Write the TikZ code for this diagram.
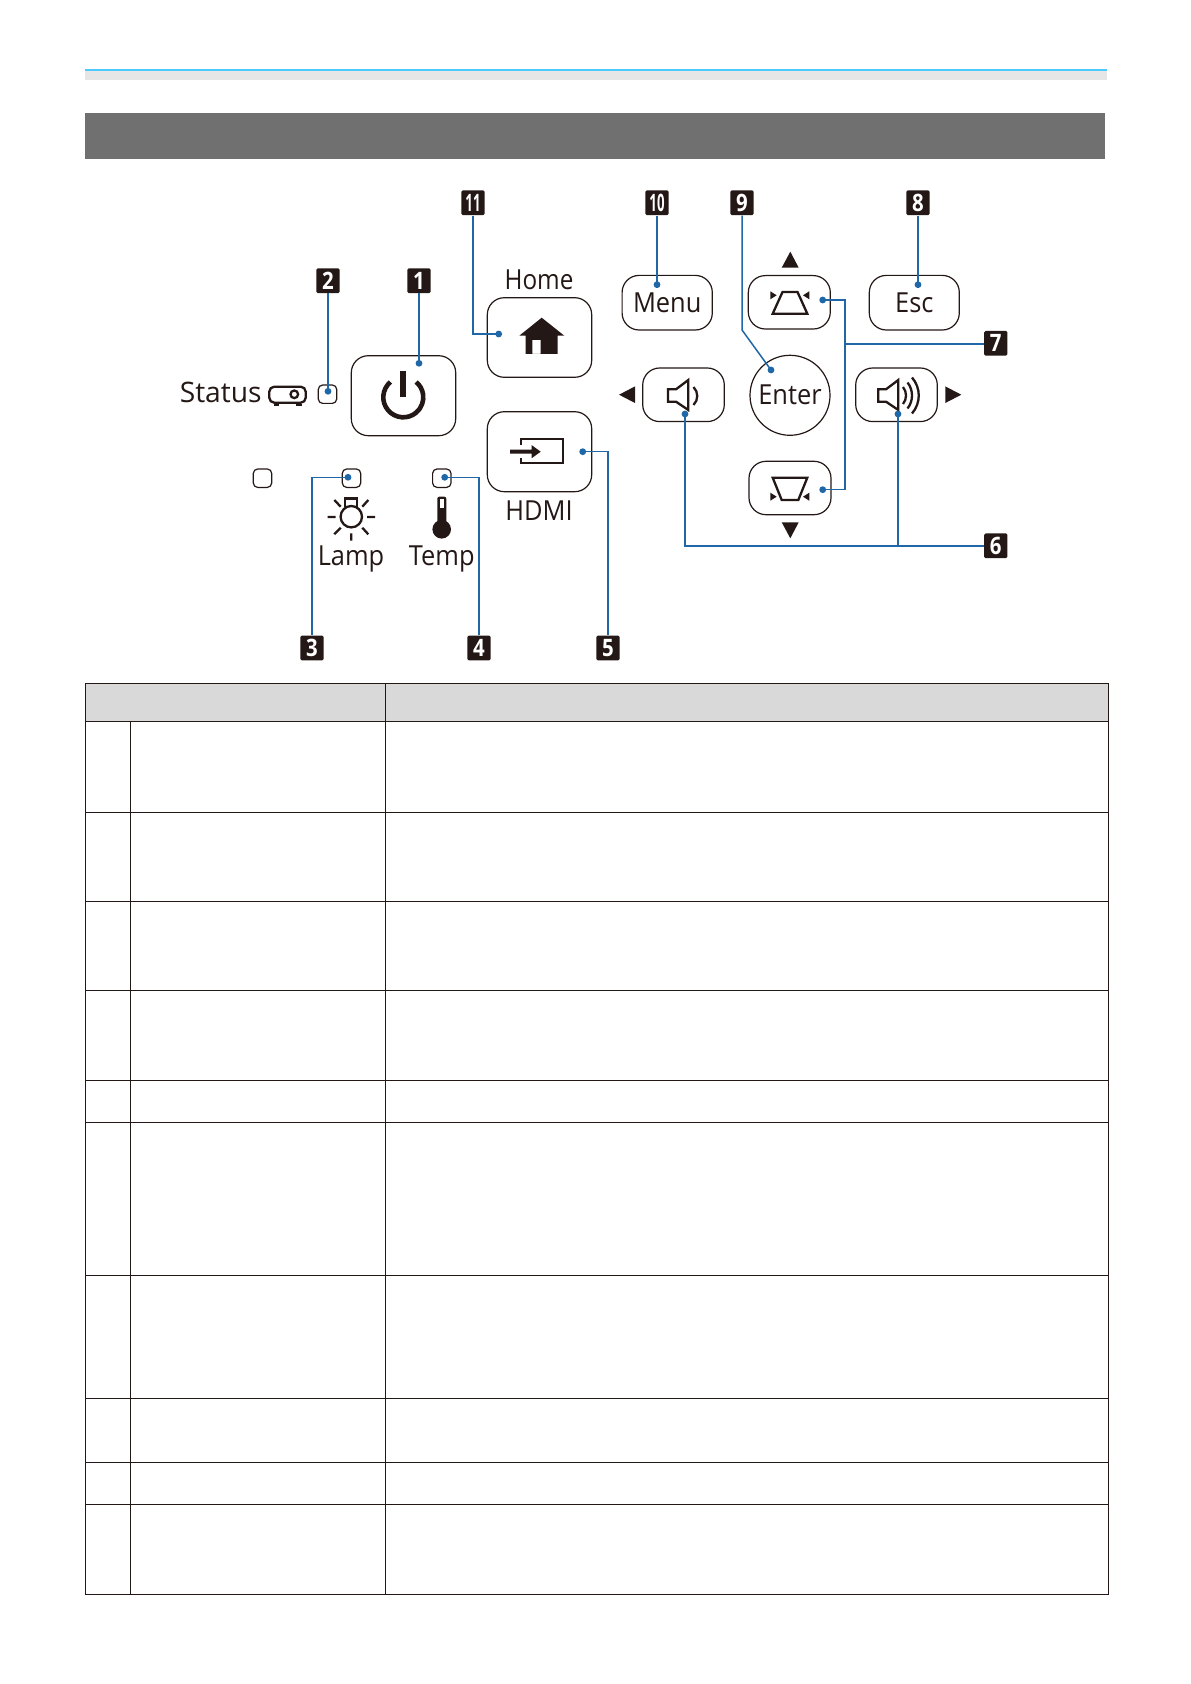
\documentclass[tikz,border=0pt]{standalone}
\usepackage{fontspec}
\usepackage{graphicx}
\setmainfont{Open Sans}
\usetikzlibrary{positioning, calc}
\definecolor{inkblk}{HTML}{231815}
\definecolor{leadblue}{HTML}{1F67A6}
\definecolor{skyline}{HTML}{4DCBFF}
\definecolor{darkbar}{HTML}{707070}
\definecolor{lightbar}{HTML}{E6E6E6}
\definecolor{headfill}{HTML}{D9D9D9}
\newcommand{\slimtxt}[1]{\scalebox{0.92}[1]{#1}}
\newcommand{\slimnum}[1]{\scalebox{0.85}[1]{#1}}
\tikzstyle{keybtn} = [draw=inkblk, line width=0.6pt, rounded corners=8.5pt, fill=white, inner sep=0pt, font=\fontsize{13.8}{16}\selectfont, text=inkblk]
\tikzstyle{ledbox} = [draw=inkblk, line width=0.6pt, rounded corners=2.2pt, minimum size=9.2pt, inner sep=0pt]
\tikzstyle{callout} = [fill=inkblk, rounded corners=0.7pt, minimum width=11.6pt, minimum height=12.4pt, inner sep=0pt, text=white, font=\fontsize{12}{12}\selectfont\bfseries]
\tikzstyle{bluedot} = [circle, fill=leadblue, minimum size=3.4pt, inner sep=0pt]
\tikzstyle{leader} = [draw=leadblue, line width=0.75pt]
\tikzstyle{caption} = [inner sep=0pt, anchor=base, font=\fontsize{13.8}{16}\selectfont, text=inkblk]
\tikzstyle{icon} = [draw=inkblk, line width=1.15pt]

\begin{document}
\begin{tikzpicture}[x=0.5pt, y=-0.5pt]
    \useasboundingbox (0,0) rectangle (1190,1684);

    % Page header
    \fill[lightbar] (85,71) rectangle (1107,80);
    \fill[skyline] (85,69) rectangle (1107,71);
    \fill[darkbar] (85,113) rectangle (1105,159);

    % Table
    \fill[headfill] (85.5,683.3) rectangle (1108,721.3);
    \draw[inkblk, line width=0.5pt] (85.5,683.3) rectangle (1108,1594);
    \draw[inkblk, line width=0.5pt] (385.3,683.3) -- (385.3,1594);
    \draw[inkblk, line width=0.5pt] (130.3,721.3) -- (130.3,1594);
    \foreach \y in {721.3, 812.3, 901, 990, 1080.5, 1122.5, 1275, 1398.5, 1462, 1504} {
        \draw[inkblk, line width=0.5pt] (85.5,\y) -- (1108,\y);
    }

    % Buttons
    \node[keybtn, minimum width=52.2pt, minimum height=40pt] (power) at (403.5,395.7) {};
    \node[keybtn, minimum width=52.2pt, minimum height=39.8pt] (home) at (539.5,337.5) {};
    \node[keybtn, minimum width=52.2pt, minimum height=40pt] (hdmi) at (539.5,451.7) {};
    \node[keybtn, minimum width=45.1pt, minimum height=27.3pt] (menu) at (667.2,302.7) {\raisebox{-0.3pt}{\slimtxt{Menu}}};
    \node[keybtn, minimum width=45pt, minimum height=27.3pt] (esc) at (914.3,302.7) {\raisebox{-0.3pt}{\slimtxt{Esc}}};
    \node[keybtn, minimum width=41pt, minimum height=26.7pt] (keyup) at (789.3,302.3) {};
    \node[keybtn, minimum width=41pt, minimum height=26.7pt] (keydown) at (790,488) {};
    \node[keybtn, minimum width=40.8pt, minimum height=26.8pt] (voldown) at (683.5,394.8) {};
    \node[keybtn, minimum width=40.8pt, minimum height=26.8pt] (volup) at (896.5,394.8) {};
    \node[keybtn, circle, minimum size=40pt] (enter) at (790,395.3) {\raisebox{0.4pt}{\slimtxt{Enter}}};

    % Indicators
    \node[ledbox] (ledstatus) at (327.5,394.2) {};
    \node[ledbox] (ledleft) at (262.5,478.2) {};
    \node[ledbox] (ledlamp) at (351.5,478.2) {};
    \node[ledbox] (ledtemp) at (441.8,478.2) {};

    % Captions
    \node[caption, anchor=base east, font=\fontsize{14.1}{16}\selectfont] (status) at (262,403) {Status};
    \node[caption] (homelbl) at (539,289.5) {\scalebox{0.88}[1]{Home}};
    \node[caption] (hdmilbl) at (539,520) {\slimtxt{HDMI}};
    \node[caption] (lamplbl) at (351,565.3) {\slimtxt{Lamp}};
    \node[caption] (templbl) at (441.7,565.3) {\slimtxt{Temp}};

    % Status projector icon
    \draw[icon, rounded corners=2.5pt] (269.3,386.7) rectangle (305.7,402.7);
    \draw[icon] (294.3,394.3) circle (3.8);
    \draw[icon] (274,405.2) -- (279.3,405.2) (295.7,405.2) -- (301.7,405.2);

    % Power icon
    \draw[inkblk, line width=2.3pt] (403.3,397.3) ++(-130:20) arc[start angle=-130, end angle=-410, radius=20];
    \draw[inkblk, line width=3pt] (403.3,371) -- (403.3,397.3);

    % Home icon
    \fill[inkblk, even odd rule] (541.7,317.7) -- (564.3,335.7) -- (557.7,335.7) -- (557.7,354) -- (525.7,354) -- (525.7,335.7) -- (519.3,335.7) -- cycle
        (532.3,340) rectangle (540.7,354);

    % HDMI icon
    \draw[inkblk, line width=1.1pt] (520.7,439.3) rectangle (563.3,463.3);
    \fill[white] (516,445) rectangle (524,458);
    \fill[inkblk] (510,449.7) -- (531.7,449.7) -- (531.7,445.2) -- (540.7,451.7) -- (531.7,458.2) -- (531.7,453.7) -- (510,453.7) -- cycle;

    % Lamp icon
    \draw[icon] (345,506.7) -- (345,498.6) -- (357.3,498.6) -- (357.3,506.7);
    \draw[icon, fill=white] (351.3,516.7) circle (10.7);
    \draw[icon] (327.7,517) -- (335.7,517) (367,517) -- (375,517) (351.3,533.3) -- (351.3,540.7)
        (334.3,500) -- (340.7,506.7) (368.3,500) -- (362.3,506.7) (334.3,534.3) -- (340.7,527.7) (368.3,534.3) -- (362.3,527.7);

    % Temp icon
    \fill[inkblk, rounded corners=1pt] (437.3,496.7) rectangle (446.3,525);
    \fill[inkblk] (441.7,529.3) circle (9.3);
    \fill[white] (440,498.6) rectangle (444,508.3);

    % Direction triangles
    \fill[inkblk] (790.3,251.7) -- (798.7,267.7) -- (781.7,267.7) -- cycle;
    \fill[inkblk] (790.3,538.3) -- (798.7,522.3) -- (781.7,522.3) -- cycle;
    \fill[inkblk] (619,394.7) -- (635,386.4) -- (635,403) -- cycle;
    \fill[inkblk] (961.3,394.7) -- (945.3,386.4) -- (945.3,403) -- cycle;

    % Keystone icons
    \draw[icon, line join=miter] (782.5,292) -- (797.5,292) -- (807.3,313.7) -- (772.7,313.7) -- cycle;
    \fill[inkblk] (776.7,295.3) -- (770.3,291.3) -- (770.3,299.3) -- cycle (803,295.3) -- (809.3,291.3) -- (809.3,299.3) -- cycle;
    \draw[icon, line join=miter] (772.7,477.7) -- (807.3,477.7) -- (798.3,500) -- (781.7,500) -- cycle;
    \fill[inkblk] (776.7,496.7) -- (770.3,492.7) -- (770.3,500.7) -- cycle (803,496.7) -- (809.3,492.7) -- (809.3,500.7) -- cycle;

    % Speaker icons
    \draw[icon, line join=miter] (668,389.3) -- (676,389.3) -- (688.3,380) -- (688.3,410) -- (676,401.7) -- (668,401.7) -- cycle;
    \draw[icon] (693.5,387) .. controls (698.5,392) and (698.5,400) .. (693.5,405);
    \draw[icon, line join=miter] (878.3,389.3) -- (886,389.3) -- (898.3,380) -- (898.3,410) -- (886,401.7) -- (878.3,401.7) -- cycle;
    \draw[icon] (903,387) .. controls (907,392) and (907,399) .. (903,404);
    \draw[icon] (907.5,382.5) .. controls (913.5,390) and (913.5,401) .. (907.5,408.5);
    \draw[icon] (912,377.5) .. controls (921,388) and (921,403) .. (912,413.5);

    % Numbered callouts
    \node[callout] (c1) at (419,280.7) {\slimnum{1}};
    \node[callout] (c2) at (328,280.7) {\slimnum{2}};
    \node[callout] (c3) at (312,648) {\slimnum{3}};
    \node[callout] (c4) at (479,648) {\slimnum{4}};
    \node[callout] (c5) at (608,648) {\slimnum{5}};
    \node[callout] (c6) at (995.8,545.8) {\slimnum{6}};
    \node[callout] (c7) at (995.8,343.3) {\slimnum{7}};
    \node[callout] (c8) at (918,202.8) {\slimnum{8}};
    \node[callout] (c9) at (742,202.8) {\slimnum{9}};
    \node[callout] (c10) at (657,202.8) {\scalebox{0.55}[1]{10}};
    \node[callout] (c11) at (473,202.8) {\scalebox{0.55}[1]{11}};

    % Dots on the controls
    \node[bluedot] (d1) at (419,363.3) {};
    \node[bluedot] (d2) at (328,391.3) {};
    \node[bluedot] (d3) at (348,477.3) {};
    \node[bluedot] (d4) at (444.7,477.3) {};
    \node[bluedot] (d5) at (582.7,451.7) {};
    \node[bluedot] (d6a) at (685,414) {};
    \node[bluedot] (d6b) at (898,414) {};
    \node[bluedot] (d7a) at (822.7,300) {};
    \node[bluedot] (d7b) at (822.7,489.7) {};
    \node[bluedot] (d8) at (918,284.7) {};
    \node[bluedot] (d9) at (771,370) {};
    \node[bluedot] (d10) at (657,284.7) {};
    \node[bluedot] (d11) at (498.7,334) {};
    \coordinate (j7) at (845,344);
    \coordinate (b9) at (742,330);

    % Leaders
    \draw[leader] (c1.south) -- (d1.center);
    \draw[leader] (c2.south) -- (d2.center);
    \draw[leader] (d3.center) -| (c3.north);
    \draw[leader] (d4.center) -| (c4.north);
    \draw[leader] (d5.center) -| (c5.north);
    \draw[leader] (d6a.center) |- (c6.west);
    \draw[leader] (d6b.center) -- (d6b.center |- c6.west);
    \draw[leader] (d7a.center) -| (j7) |- (d7b.center);
    \draw[leader] (j7) -- (c7.west |- j7);
    \draw[leader] (c8.south) -- (d8.center);
    \draw[leader] (c9.south) -- (b9) -- (d9.center);
    \draw[leader] (c10.south) -- (d10.center);
    \draw[leader] (c11.south) |- (d11.center);
\end{tikzpicture}
\end{document}
